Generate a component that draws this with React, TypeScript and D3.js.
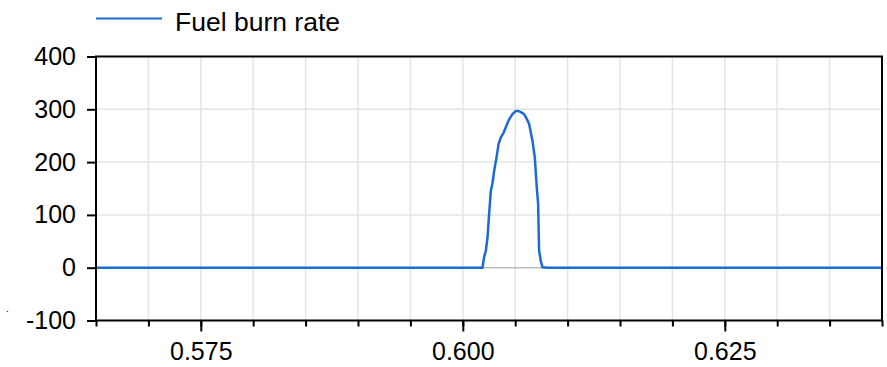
import React, { useEffect, useRef } from "react";
import * as d3 from "d3";

const seriesName = "Fuel burn rate";
const timeValues = [0.565, 0.60188, 0.60203, 0.6022, 0.60236, 0.60251, 0.60267, 0.60283, 0.60299, 0.60322, 0.60341, 0.60363, 0.6039, 0.6041, 0.60442, 0.60474, 0.60506, 0.60522, 0.6055, 0.60585, 0.6061, 0.60633, 0.60665, 0.60687, 0.60706, 0.60719, 0.60728, 0.60744, 0.6076, 0.6081, 0.64];
const burnValues = [0, 0, 20, 32, 58, 101, 145, 160, 183, 209, 234, 247, 256, 266, 281, 291, 297, 297, 295, 291, 282, 272, 240, 209, 152, 120, 32, 13, 1, 0, 0];
const yTicks = [-100, 0, 100, 200, 300, 400];
const xMajorTicks = [0.575, 0.6, 0.625];
const xMinorTicks = [0.565, 0.57, 0.575, 0.58, 0.585, 0.59, 0.595, 0.6, 0.605, 0.61, 0.615, 0.62, 0.625, 0.63, 0.635, 0.64];

export default function App() {
  const ref = useRef<SVGSVGElement>(null);
  useEffect(() => {
    const svg = d3.select(ref.current);
    svg.selectAll("*").remove();
    const left = 96, right = 882, top = 56.5, bottom = 320.5;
    const x = d3.scaleLinear().domain([0.565, 0.64]).range([left, right]);
    const y = d3.scaleLinear().domain([-100, 400]).range([bottom, top]);
    const font = "Liberation Sans, Arial, sans-serif";

    // vertical grid
    svg.append("g").selectAll("line").data(xMinorTicks.slice(1, -1)).join("line")
      .attr("x1", d => x(d)).attr("x2", d => x(d)).attr("y1", top).attr("y2", bottom)
      .attr("stroke", "#e4e4e4").attr("stroke-width", 1.5);
    // horizontal grid
    svg.append("g").selectAll("line").data(yTicks.filter(d => d !== -100 && d !== 400)).join("line")
      .attr("x1", left).attr("x2", right).attr("y1", d => y(d)).attr("y2", d => y(d))
      .attr("stroke", d => d === 0 ? "#bdbdbd" : "#e4e4e4").attr("stroke-width", 1.5);

    // line
    const data = timeValues.map((t, i) => [t, burnValues[i]] as [number, number]);
    svg.append("path").datum(data)
      .attr("d", d3.line<[number, number]>().x(d => x(d[0])).y(d => y(d[1])))
      .attr("fill", "none").attr("stroke", "#1c6bd0").attr("stroke-width", 2.5)
      .attr("stroke-linejoin", "round");

    // frame
    svg.append("rect").attr("x", left).attr("y", top).attr("width", right - left).attr("height", bottom - top)
      .attr("fill", "none").attr("stroke", "#000").attr("stroke-width", 2);

    // y axis
    const ya = svg.append("g").attr("transform", `translate(${left},0)`)
      .call(d3.axisLeft(y).tickValues(yTicks).tickSize(9).tickPadding(11).tickFormat(d => String(d)));
    ya.select(".domain").remove();
    ya.selectAll("line").attr("stroke", "#000").attr("stroke-width", 2);
    ya.selectAll("text").attr("font-size", 25).attr("font-family", font).attr("fill", "#000");

    // x minor ticks
    const xm = svg.append("g").attr("transform", `translate(0,${bottom})`)
      .call(d3.axisBottom(x).tickValues(xMinorTicks).tickSize(6).tickFormat(() => ""));
    xm.select(".domain").remove();
    xm.selectAll("line").attr("stroke", "#000").attr("stroke-width", 2);
    // x major ticks
    const xa = svg.append("g").attr("transform", `translate(0,${bottom})`)
      .call(d3.axisBottom(x).tickValues(xMajorTicks).tickSize(11).tickPadding(11).tickFormat(d3.format(".3f")));
    xa.select(".domain").remove();
    xa.selectAll("line").attr("stroke", "#000").attr("stroke-width", 2);
    xa.selectAll("text").attr("font-size", 25).attr("font-family", font).attr("fill", "#000");

    // legend
    svg.append("line").attr("x1", left).attr("x2", 162).attr("y1", 18.5).attr("y2", 18.5)
      .attr("stroke", "#1c6bd0").attr("stroke-width", 2);
    svg.append("text").attr("x", 175).attr("y", 31).attr("font-size", 26.5).attr("font-family", font)
      .attr("fill", "#000").text(seriesName);
    svg.append("text").attr("x", 6).attr("y", 312).attr("font-size", 10).attr("font-family", font)
      .attr("fill", "#000").text(".");
  }, []);
  return (
    <svg ref={ref} width={887} height={367} style={{ position: "absolute", left: 0, top: 0, background: "#fff" }} />
  );
}
